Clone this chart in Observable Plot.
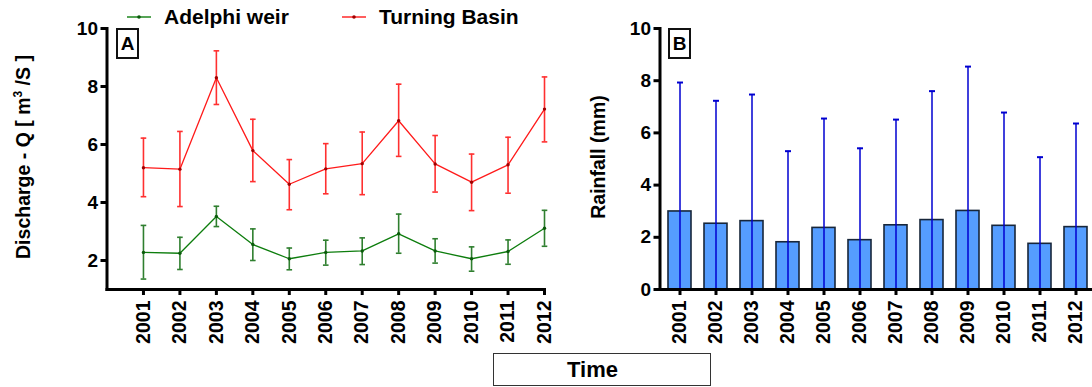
<!DOCTYPE html>
<html>
<head>
<meta charset="utf-8">
<script src="https://cdn.jsdelivr.net/npm/d3@7"></script>
<script src="https://cdn.jsdelivr.net/npm/@observablehq/plot@0.6"></script>
<style>
  html, body { margin: 0; padding: 0; background: #fff; }
  #root { position: relative; width: 1092px; height: 387px; overflow: hidden;
          font-family: "Liberation Sans", Arial, Helvetica, sans-serif; font-weight: bold; color: #000; }
  .abs { position: absolute; }
  .box { position: absolute; border: 2px solid #111; box-sizing: border-box;
         display: flex; align-items: center; justify-content: center; font-size: 19px; font-weight: bold; }
  .ylab { position: absolute; white-space: nowrap; font-size: 19.5px; font-weight: bold;
          transform: translate(-50%, -50%) rotate(-90deg); }
  .leg { position: absolute; display: flex; align-items: center; font-size: 21px; font-weight: bold; white-space: nowrap; }
</style>
</head>
<body>
<div id="root"></div>
<script>
// ---------- data ----------
const years = [2001, 2002, 2003, 2004, 2005, 2006, 2007, 2008, 2009, 2010, 2011, 2012];

const adelphiMean = [2.28, 2.25, 3.52, 2.55, 2.06, 2.28, 2.33, 2.92, 2.33, 2.06, 2.31, 3.11];
const adelphiLow  = [1.36, 1.69, 3.17, 2.00, 1.68, 1.84, 1.86, 2.25, 1.91, 1.63, 1.87, 2.49];
const adelphiHigh = [3.21, 2.80, 3.87, 3.09, 2.43, 2.70, 2.78, 3.60, 2.75, 2.47, 2.71, 3.73];

const turningMean = [5.20, 5.15, 8.30, 5.79, 4.63, 5.16, 5.34, 6.82, 5.33, 4.70, 5.30, 7.22];
const turningLow  = [4.20, 3.86, 7.38, 4.72, 3.75, 4.30, 4.27, 5.59, 4.36, 3.72, 4.32, 6.09];
const turningHigh = [6.22, 6.45, 9.23, 6.87, 5.48, 6.03, 6.43, 8.08, 6.31, 5.67, 6.25, 8.33];

const rainMean = [2.99, 2.52, 2.62, 1.81, 2.36, 1.89, 2.46, 2.66, 3.01, 2.44, 1.75, 2.39];
const rainHigh = [7.93, 7.23, 7.47, 5.30, 6.55, 5.41, 6.51, 7.60, 8.54, 6.78, 5.07, 6.36];

const yTicksA = [2, 4, 6, 8, 10];
const yTicksB = [0, 2, 4, 6, 8, 10];

const seriesNames = ["Adelphi weir", "Turning Basin"];
const panelLabels = ["A", "B"];
const yTitleA = "Discharge - Q [ m<sup style=\"font-size:12px\">3</sup> /S ]";
const yTitleB = "Rainfall (mm)";
const xTitle = "Time";

// ---------- tables ----------
const adelphi = years.map((y, i) => ({year: y, mean: adelphiMean[i], lo: adelphiLow[i], hi: adelphiHigh[i]}));
const turning = years.map((y, i) => ({year: y, mean: turningMean[i], lo: turningLow[i], hi: turningHigh[i]}));
const rain = years.map((y, i) => ({year: String(y), mean: rainMean[i], hi: rainHigh[i]}));

const cap = {draw(ctx, size) { const w = Math.sqrt(size / Math.PI); ctx.moveTo(-w, 0); ctx.lineTo(w, 0); }};

const FONT = '"Liberation Sans", Arial, Helvetica, sans-serif';
const GREEN = "#0d7d0d", GREEN_BAR = "#2f7f2f", GREEN_PT = "#0a5a0a";
const RED = "#ff1a1a", RED_BAR = "#ff3030", RED_PT = "#a00000";

function errMarks(data, barColor, lineColor, ptColor) {
  return [
    Plot.ruleX(data, {x: "year", y1: "lo", y2: "hi", stroke: barColor, strokeWidth: 1.6}),
    Plot.dot(data, {x: "year", y: "hi", symbol: cap, r: 2.8, stroke: barColor, strokeWidth: 1.6, fill: "none"}),
    Plot.dot(data, {x: "year", y: "lo", symbol: cap, r: 2.8, stroke: barColor, strokeWidth: 1.6, fill: "none"}),
    Plot.line(data, {x: "year", y: "mean", stroke: lineColor, strokeWidth: 1.3}),
    Plot.dot(data, {x: "year", y: "mean", r: 1.7, fill: ptColor, stroke: "none"})
  ];
}

const plotA = Plot.plot({
  width: 560, height: 387,
  marginLeft: 106.5, marginRight: 16, marginTop: 28, marginBottom: 98,
  style: {fontFamily: FONT, background: "transparent", overflow: "visible"},
  x: {type: "linear", domain: [years[0] - 1, years[years.length - 1]]},
  y: {domain: [1, 10]},
  marks: [
    Plot.axisY({ticks: yTicksA, tickSize: 6, tickPadding: 3, fontSize: 19, fontWeight: "bold", strokeWidth: 3, label: null}),
    Plot.axisX({ticks: years, tickFormat: d => String(d), tickRotate: -90, tickSize: 6, tickPadding: 5,
                fontSize: 19.5, fontWeight: "bold", strokeWidth: 3, label: null}),
    ...errMarks(adelphi, GREEN_BAR, GREEN, GREEN_PT),
    ...errMarks(turning, RED_BAR, RED, RED_PT),
    Plot.frame({anchor: "left", strokeWidth: 3, stroke: "#000"}),
    Plot.frame({anchor: "bottom", strokeWidth: 3, stroke: "#000"})
  ]
});

const plotB = Plot.plot({
  width: 540, height: 387,
  marginLeft: 99.5, marginRight: 4.7, marginTop: 28, marginBottom: 98,
  style: {fontFamily: FONT, background: "transparent", overflow: "visible"},
  x: {type: "band", domain: rain.map(d => d.year), paddingInner: 0.36, paddingOuter: 0.18},
  y: {domain: [0, 10]},
  marks: [
    Plot.barY(rain, {x: "year", y: "mean", fill: "#559dff", stroke: "#17263a", strokeWidth: 1.6}),
    Plot.ruleX(rain, {x: "year", y1: 0, y2: "hi", stroke: "#0000d0", strokeWidth: 1.5}),
    Plot.dot(rain, {x: "year", y: "hi", symbol: cap, r: 3, stroke: "#0000d0", strokeWidth: 2, fill: "none"}),
    Plot.axisY({ticks: yTicksB, tickSize: 6, tickPadding: 3, fontSize: 19, fontWeight: "bold", strokeWidth: 3, label: null}),
    Plot.axisX({tickRotate: -90, tickSize: 6, tickPadding: 5, fontSize: 19.5, fontWeight: "bold", strokeWidth: 3, label: null}),
    Plot.frame({anchor: "left", strokeWidth: 3, stroke: "#000"}),
    Plot.frame({anchor: "bottom", strokeWidth: 3, stroke: "#000"})
  ]
});

const root = document.getElementById("root");
plotA.style.position = "absolute"; plotA.style.left = "0px"; plotA.style.top = "0px";
plotB.style.position = "absolute"; plotB.style.left = "560px"; plotB.style.top = "0px";
root.appendChild(plotA);
root.appendChild(plotB);

function addEl(html, cls, css) {
  const d = document.createElement("div");
  d.className = cls; d.innerHTML = html; Object.assign(d.style, css); root.appendChild(d); return d;
}
function legendItem(name, color, ptColor, left) {
  const sym = `<svg width="24" height="6" style="margin-right:13px"><line x1="0" y1="3" x2="24" y2="3" stroke="${color}" stroke-width="1.4"/><circle cx="12" cy="3" r="1.8" fill="${ptColor}"/></svg>`;
  addEl(sym + name, "leg", {left: left + "px", top: "5px", height: "24px"});
}
legendItem(seriesNames[0], GREEN, GREEN_PT, 127);
legendItem(seriesNames[1], RED, RED_PT, 342);

addEl(panelLabels[0], "box", {left: "116px", top: "28px", width: "23px", height: "31px"});
addEl(panelLabels[1], "box", {left: "668px", top: "28px", width: "23px", height: "31px"});
addEl(xTitle, "box", {left: "493px", top: "353px", width: "218px", height: "33px", fontSize: "22px",
                     border: "1.5px solid #333", justifyContent: "flex-start", paddingLeft: "73px"});
addEl(yTitleA, "ylab", {left: "23px", top: "157px"});
addEl(yTitleB, "ylab", {left: "598px", top: "157px"});
</script>
</body>
</html>
